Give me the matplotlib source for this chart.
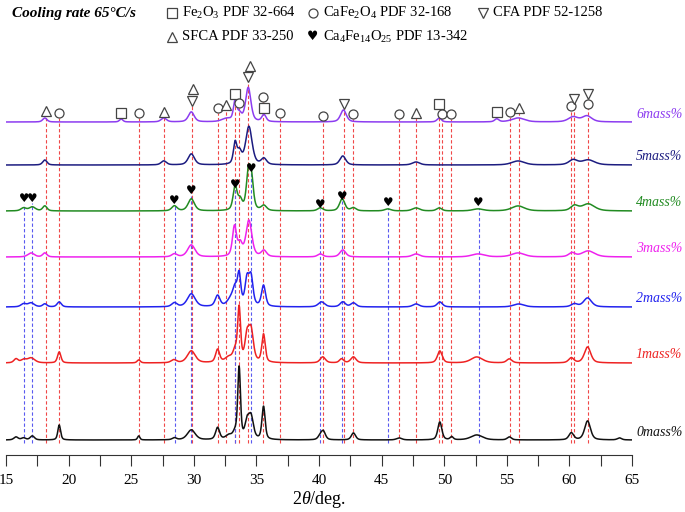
import numpy as np
import matplotlib
matplotlib.use("Agg")
import matplotlib.pyplot as plt

# ---------------- data ----------------
series_labels = ['0mass%', '1mass%', '2mass%', '3mass%', '4mass%', '5mass%', '6mass%']
# peaks per pattern: (2theta, intensity, FWHM)
peaks0 = [(15.8, 3, 0.4), (16.4, 2, 0.4), (17.1, 4, 0.4), (19.25, 15, 0.26), (25.6, 4, 0.22),
          (28.45, 2, 0.4), (29.8, 10, 0.75), (31.9, 12, 0.38), (32.8, 4, 0.6), (33.3, 6, 0.4),
          (33.62, 71, 0.26), (34.25, 16, 0.4), (34.57, 22, 0.45), (35.57, 33, 0.3), (40.1, 4, 0.4),
          (40.35, 8, 0.4), (42.75, 7, 0.4), (46.4, 2, 0.5), (49.65, 18, 0.38), (50.6, 3, 0.3),
          (52.6, 5, 1.1), (55.2, 3, 0.4), (60.15, 7, 0.45), (61.45, 19, 0.55), (64.0, 2, 0.4)]
peaks1 = [(15.8, 4, 0.4), (16.4, 3, 0.5), (17.0, 5, 0.7), (19.25, 11, 0.32), (25.6, 3, 0.3),
          (28.4, 3, 0.5), (29.8, 12, 0.75), (31.9, 13, 0.38), (32.8, 5, 0.7), (33.3, 10, 0.4),
          (33.62, 53, 0.28), (34.25, 24, 0.4), (34.57, 31, 0.45), (35.57, 28, 0.32), (40.3, 6, 0.5),
          (41.8, 4, 0.4), (42.75, 6, 0.5), (49.65, 12, 0.45), (52.6, 6, 1.1), (55.2, 4, 0.5),
          (60.15, 5, 0.5), (61.45, 16, 0.6)]
peaks2 = [(16.4, 3, 0.5), (17.0, 4, 0.6), (18.1, 3, 0.4), (19.25, 5, 0.4), (28.45, 4, 0.5),
          (29.8, 13, 0.75), (31.9, 11, 0.45), (33.0, 8, 0.7), (33.3, 14, 0.4), (33.62, 30, 0.32),
          (34.25, 26, 0.38), (34.57, 28, 0.38), (35.57, 21, 0.38), (40.2, 5, 0.6), (41.9, 5, 0.5),
          (42.75, 4, 0.5), (47.75, 3, 0.6), (49.65, 5, 0.5), (55.95, 3, 1.0), (60.4, 3, 0.6),
          (61.45, 9, 0.75)]
peaks3 = [(17.0, 4, 0.6), (18.1, 4, 0.4), (28.45, 3, 0.5), (29.8, 12, 0.7), (33.25, 30, 0.38),
          (33.7, 12, 0.4), (34.4, 36, 0.55), (35.6, 6, 0.5), (40.1, 3, 0.5), (41.9, 7, 0.55),
          (47.75, 3, 0.7), (52.7, 3, 1.2), (55.9, 4, 1.2), (60.2, 4, 0.6), (61.5, 6, 1.2)]
peaks4 = [(16.4, 3, 0.5), (17.1, 4, 0.6), (18.1, 5, 0.4), (28.45, 5, 0.5), (29.8, 12, 0.6),
          (33.3, 24, 0.38), (33.7, 10, 0.4), (34.35, 34, 0.38), (34.6, 30, 0.38), (35.6, 5, 0.5),
          (40.1, 3, 0.5), (41.85, 12, 0.5), (42.75, 3, 0.5), (45.5, 2, 0.6), (47.75, 3, 0.7),
          (49.6, 3, 0.5), (52.7, 2, 1.0), (55.9, 5, 1.2), (60.4, 5, 0.7), (61.5, 7, 1.2)]
peaks5 = [(18.1, 5, 0.4), (27.6, 4, 0.5), (29.8, 11, 0.6), (33.3, 21, 0.32), (33.65, 12, 0.4),
          (34.4, 38, 0.6), (35.6, 6, 0.5), (41.9, 9, 0.55), (47.75, 3, 0.7), (55.9, 4, 1.2),
          (60.3, 5, 0.8), (61.5, 5, 1.2)]
peaks6 = [(18.1, 4, 0.4), (24.2, 3, 0.32), (27.6, 4, 0.5), (29.8, 10, 0.55), (32.6, 3, 0.9),
          (33.3, 20, 0.32), (33.65, 7, 0.4), (34.35, 34, 0.5), (35.6, 7, 0.4), (41.95, 12, 0.55),
          (49.6, 4, 0.4), (54.2, 3, 0.4), (55.9, 4, 1.2), (60.3, 5, 0.9), (61.4, 6, 0.9)]
all_peaks = [peaks0, peaks1, peaks2, peaks3, peaks4, peaks5, peaks6]

# phase reference markers (2theta) and kinds
phase_x = [18.17, 19.26, 24.2, 25.65, 27.6, 29.83, 29.95, 31.94, 32.6, 33.27, 33.63, 34.3, 34.52,
           35.55, 35.62, 36.88, 40.35, 42.0, 42.75, 46.42, 47.75, 49.55, 49.8, 50.57, 54.2,
           55.23, 55.97, 60.13, 60.4, 61.5, 61.5]
phase_kind = ['tri', 'circ', 'sq', 'circ', 'tri', 'dtri', 'tri', 'circ', 'tri', 'sq', 'circ', 'dtri',
              'tri', 'circ', 'sq', 'circ', 'circ', 'dtri', 'circ', 'circ', 'tri', 'sq', 'circ', 'circ',
              'sq', 'circ', 'tri', 'circ', 'dtri', 'dtri', 'circ']
heart_x = [16.44, 17.1, 28.47, 29.8, 33.3, 34.6, 40.08, 41.84, 45.49, 52.75]

legend_texts = [r'Fe$_2$O$_3$ PDF 32-664', r'CaFe$_2$O$_4$ PDF 32-168', r'CFA PDF 52-1258',
                r'SFCA PDF 33-250', r'Ca$_4$Fe$_{14}$O$_{25}$ PDF 13-342']
title_text = 'Cooling rate 65\u00b0C/s'

# ---------------- layout / style ----------------
W, H = 685, 512
AX_BOTTOM_PX = 455
X0_PX, X1_PX = 6, 632

def py(p):  # pixel row -> data y
    return AX_BOTTOM_PX - p

def px(p):  # pixel col -> 2theta
    return 15 + (p - X0_PX) * 50.0 / (X1_PX - X0_PX)

baselines_px = [440, 363, 307, 257, 211, 165, 122]
colors = ['#111111', '#EE2222', '#2222EE', '#EE22EE', '#228B22', '#1C1C80', '#8C3CF0']
phase_y_px = [111, 113, 113, 113, 112, 101, 89, 108, 105, 94, 103, 77, 66, 97, 108, 113, 116, 104,
              114, 114, 113, 104, 114, 114, 112, 112, 108, 106, 99, 94, 104]
no_line = {2, 6, 12, 14, 24, 30}
heart_y_px = [199, 198, 200, 191, 185, 168, 204, 196, 203, 203]
marker_style = {'sq': 's', 'circ': 'o', 'tri': '^', 'dtri': 'v'}

plt.rcParams['font.family'] = ['Liberation Serif', 'DejaVu Sans']
plt.rcParams['mathtext.fontset'] = 'custom'
plt.rcParams['mathtext.rm'] = 'Liberation Serif'
plt.rcParams['mathtext.it'] = 'Liberation Serif:italic'
plt.rcParams['mathtext.bf'] = 'Liberation Serif:bold'

fig = plt.figure(figsize=(W / 100, H / 100), dpi=100)
ax = fig.add_axes([X0_PX / W, (H - AX_BOTTOM_PX) / H, (X1_PX - X0_PX) / W, AX_BOTTOM_PX / H])
ax.set_xlim(15, 65)
ax.set_ylim(0, AX_BOTTOM_PX)
for s in ['left', 'right', 'top']:
    ax.spines[s].set_visible(False)
ax.spines['bottom'].set_color('#333333')
ax.set_yticks([])
ax.set_xticks(np.arange(15, 66, 5))
ax.set_xticks(np.arange(15, 65.1, 2.5), minor=True)
ax.tick_params(axis='x', which='both', direction='out', length=8, width=0.8, color='#333333',
               labelsize=11, pad=6)
ax.set_xlabel(r'2$\it{\theta}$/deg.', fontsize=13, labelpad=1)

x = np.linspace(15, 65, 3001)

def profile(peaks):
    y = np.zeros_like(x)
    for c, h, w in peaks:
        g = np.exp(-4 * np.log(2) * ((x - c) / w) ** 2)
        l = 1.0 / (1 + 4 * ((x - c) / w) ** 2)
        y += h * (0.5 * g + 0.5 * l)
    return y

# dashed reference lines
line_bottom = py(443)
for i, (xx, yp) in enumerate(zip(phase_x, phase_y_px)):
    if i in no_line:
        continue
    ax.plot([xx, xx], [line_bottom, py(yp + 5)], color='#F04848', lw=0.8,
            dashes=(3, 2), zorder=1)
for xx, yp in zip(heart_x, heart_y_px):
    ax.plot([xx, xx], [line_bottom, py(yp + 5)], color='#5A5AF0', lw=0.8,
            dashes=(3, 2), zorder=1)

# patterns
for lab, pk, b, c in zip(series_labels, all_peaks, baselines_px, colors):
    ax.plot(x, py(b) + profile(pk), color=c, lw=1.1, zorder=3)
    ax.text(px(636), py(b) + 8, lab, color=c, fontsize=10, style='italic',
            ha='left', va='center', clip_on=False)

# phase markers
for xx, k, yp in zip(phase_x, phase_kind, phase_y_px):
    ax.plot(xx, py(yp), marker=marker_style[k], ms=6.5, mfc='white', mec='#444444',
            mew=0.9, zorder=5, clip_on=False)
for xx, yp in zip(heart_x, heart_y_px):
    ax.text(xx, py(yp), '\u2665', fontsize=8.5, family='DejaVu Sans', ha='center', va='center',
            color='black', zorder=5)

# header
ax.text(px(12), py(13), title_text, fontsize=11, style='italic', weight='bold',
        ha='left', va='center')
head_sym = ['sq', 'circ', 'dtri', 'tri', 'heart']
head_pos = [(172, 13), (313, 13), (483, 13), (172, 37), (313, 37)]
for sym, (hx, hy), t in zip(head_sym, head_pos, legend_texts):
    if sym == 'heart':
        ax.text(px(hx), py(hy), '\u2665', fontsize=9, family='DejaVu Sans',
                ha='center', va='center')
    else:
        ax.plot(px(hx), py(hy), marker=marker_style[sym], ms=6.5, mfc='white',
                mec='#444444', mew=0.9, clip_on=False)
    ax.text(px(hx + 10), py(hy), t, fontsize=10.5, ha='left', va='center')

fig.savefig('out.png', dpi=100)
